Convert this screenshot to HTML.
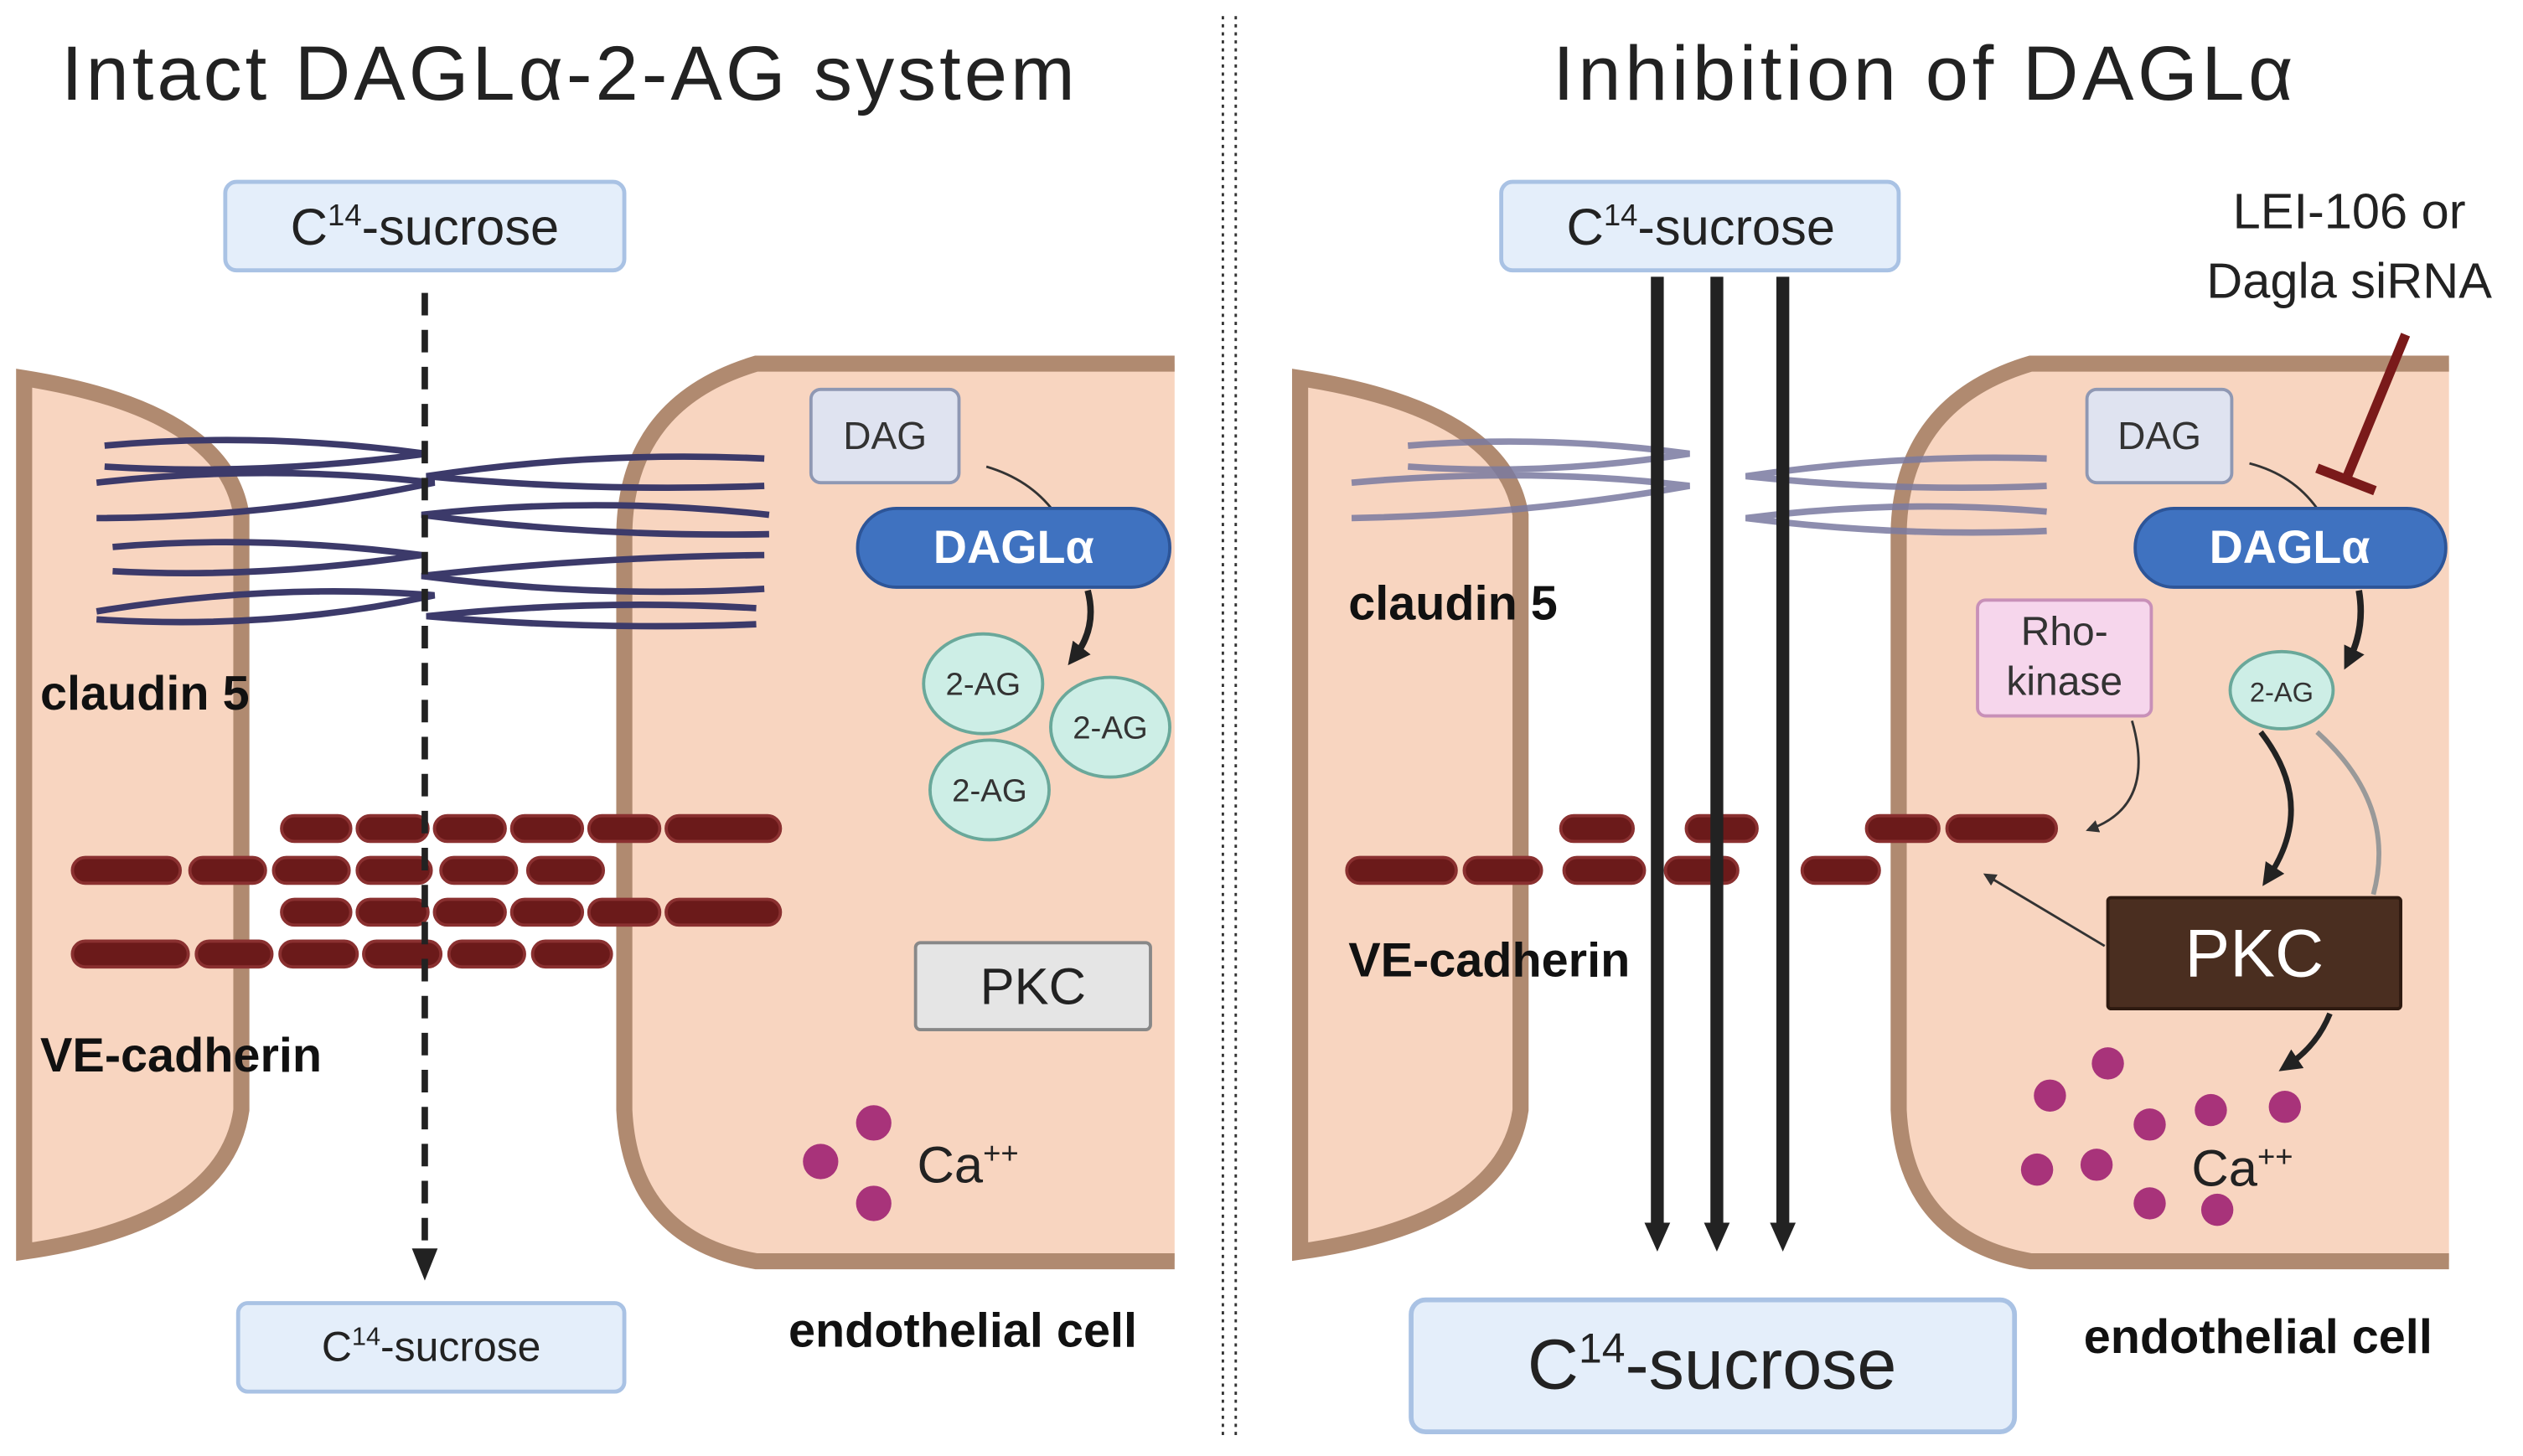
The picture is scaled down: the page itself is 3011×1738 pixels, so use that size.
<!DOCTYPE html>
<html><head><meta charset="utf-8"><style>
html,body{margin:0;padding:0;background:#fff;}
svg{display:block;}
text{font-family:"Liberation Sans",sans-serif;}
</style></head><body>
<svg width="3011" height="1738" viewBox="0 0 1568 905" xmlns="http://www.w3.org/2000/svg">
<defs>
<marker id="ah2" markerWidth="8" markerHeight="8" refX="4" refY="4" orient="auto" markerUnits="userSpaceOnUse"><path d="M0,0 L8,4 L0,8 Z" fill="#333"/></marker>
<marker id="ah3" markerWidth="14" markerHeight="14" refX="7" refY="7" orient="auto" markerUnits="userSpaceOnUse"><path d="M0,0 L14,7 L0,14 Z" fill="#222"/></marker>
</defs>
<text x="353" y="62" font-size="48" text-anchor="middle" fill="#222" textLength="630">Intact DAGLα-2-AG system</text>
<text x="1195" y="62" font-size="48" text-anchor="middle" fill="#222" textLength="460">Inhibition of DAGLα</text>
<line x1="760" y1="10" x2="760" y2="895" stroke="#333" stroke-width="1.5" stroke-dasharray="2,3"/>
<line x1="768" y1="10" x2="768" y2="895" stroke="#333" stroke-width="1.5" stroke-dasharray="2,3"/>

<!-- LEFT PANEL cells -->
<path d="M15,235 Q140,255 150,320 L150,690 Q140,760 15,778 Z" fill="#f8d5c0" stroke="#b08a70" stroke-width="10"/>
<path d="M730,226 L470,226 Q390,250 388,330 L388,690 Q392,770 470,784 L730,784 Z" fill="#f8d5c0"/>
<path d="M730,226 L470,226 Q390,250 388,330 L388,690 Q392,770 470,784 L730,784" fill="none" stroke="#b08a70" stroke-width="10"/>
<g fill="none" stroke="#3c3a6a" stroke-width="4">
<path d="M65,277 Q160,268 265,282 Q160,296 65,290"/>
<path d="M60,300 Q165,288 270,300 Q165,322 60,322"/>
<path d="M70,340 Q160,332 262,345 Q160,360 70,355"/>
<path d="M60,380 Q170,362 270,370 Q170,392 60,385"/>
<path d="M475,285 Q370,280 265,296 Q370,306 475,302"/>
<path d="M478,320 Q370,308 262,320 Q370,334 478,332"/>
<path d="M475,345 Q370,346 262,358 Q370,372 475,366"/>
<path d="M470,378 Q370,372 265,383 Q370,392 470,388"/>
</g>
<g fill="#6b1a1a" stroke="#8a3030" stroke-width="2">
<rect x="175" y="507" width="43" height="16" rx="8"/><rect x="222" y="507" width="44" height="16" rx="8"/><rect x="270" y="507" width="44" height="16" rx="8"/><rect x="318" y="507" width="44" height="16" rx="8"/><rect x="366" y="507" width="44" height="16" rx="8"/><rect x="414" y="507" width="71" height="16" rx="8"/>
<rect x="45" y="533" width="67" height="16" rx="8"/><rect x="118" y="533" width="47" height="16" rx="8"/><rect x="170" y="533" width="47" height="16" rx="8"/><rect x="222" y="533" width="46" height="16" rx="8"/><rect x="274" y="533" width="47" height="16" rx="8"/><rect x="328" y="533" width="47" height="16" rx="8"/>
<rect x="175" y="559" width="43" height="16" rx="8"/><rect x="222" y="559" width="44" height="16" rx="8"/><rect x="270" y="559" width="44" height="16" rx="8"/><rect x="318" y="559" width="44" height="16" rx="8"/><rect x="366" y="559" width="44" height="16" rx="8"/><rect x="414" y="559" width="71" height="16" rx="8"/>
<rect x="45" y="585" width="72" height="16" rx="8"/><rect x="122" y="585" width="47" height="16" rx="8"/><rect x="174" y="585" width="48" height="16" rx="8"/><rect x="226" y="585" width="48" height="16" rx="8"/><rect x="279" y="585" width="47" height="16" rx="8"/><rect x="331" y="585" width="49" height="16" rx="8"/>
</g>
<line x1="264" y1="182" x2="264" y2="780" stroke="#222" stroke-width="4" stroke-dasharray="14,9"/>
<path d="M256,776 L264,796 L272,776 Z" fill="#222"/>
<rect x="140" y="113" width="248" height="55" rx="7" fill="#e4eefa" stroke="#a9c2e4" stroke-width="2.5"/>
<text x="264" y="152" font-size="32" text-anchor="middle" fill="#222">C<tspan font-size="19" dy="-12">14</tspan><tspan dy="12">-sucrose</tspan></text>
<rect x="148" y="810" width="240" height="55" rx="6" fill="#e4eefa" stroke="#a9c2e4" stroke-width="2.5"/>
<text x="268" y="846" font-size="26" text-anchor="middle" fill="#222">C<tspan font-size="16" dy="-10">14</tspan><tspan dy="10">-sucrose</tspan></text>
<rect x="504" y="242" width="92" height="58" rx="6" fill="#dfe3f0" stroke="#8f98b3" stroke-width="2"/>
<text x="550" y="279" font-size="24" text-anchor="middle" fill="#333">DAG</text>
<path d="M613,290 Q640,298 655,318" fill="none" stroke="#333" stroke-width="1.5"/>
<rect x="533" y="316" width="194" height="49" rx="24" fill="#3f72c0" stroke="#2d5598" stroke-width="2"/>
<text x="630" y="350" font-size="29" font-weight="bold" text-anchor="middle" fill="#fff">DAGLα</text>
<path d="M676,367 Q682,390 668,408" fill="none" stroke="#222" stroke-width="4" marker-end="url(#ah3)"/>
<g fill="#cdeee6" stroke="#6aa89a" stroke-width="2">
<ellipse cx="611" cy="425" rx="37" ry="31"/><ellipse cx="690" cy="452" rx="37" ry="31"/><ellipse cx="615" cy="491" rx="37" ry="31"/></g>
<g font-size="20" text-anchor="middle" fill="#333"><text x="611" y="432">2-AG</text><text x="690" y="459">2-AG</text><text x="615" y="498">2-AG</text></g>
<rect x="569" y="586" width="146" height="54" rx="3" fill="#e5e5e5" stroke="#888" stroke-width="2"/>
<text x="642" y="624" font-size="32" text-anchor="middle" fill="#222">PKC</text>
<g fill="#a8337a"><circle cx="543" cy="698" r="11"/><circle cx="510" cy="722" r="11"/><circle cx="543" cy="748" r="11"/></g>
<text x="570" y="735" font-size="32" fill="#222">Ca<tspan font-size="19" dy="-12">++</tspan></text>

<!-- RIGHT PANEL -->
<path d="M808,235 Q935,255 945,320 L945,690 Q935,760 808,778 Z" fill="#f8d5c0" stroke="#b08a70" stroke-width="10"/>
<path d="M1522,226 L1262,226 Q1182,250 1180,330 L1180,690 Q1184,770 1262,784 L1522,784 Z" fill="#f8d5c0"/>
<path d="M1522,226 L1262,226 Q1182,250 1180,330 L1180,690 Q1184,770 1262,784 L1522,784" fill="none" stroke="#b08a70" stroke-width="10"/>
<g fill="none" stroke="#7a7aa0" stroke-width="4" opacity="0.85">
<path d="M875,277 Q960,270 1050,282 Q960,296 875,290"/>
<path d="M840,300 Q950,290 1050,302 Q950,320 840,322"/>
<path d="M1272,285 Q1180,282 1085,296 Q1180,306 1272,302"/>
<path d="M1272,318 Q1180,310 1085,322 Q1180,334 1272,330"/>
</g>
<g fill="#6b1a1a" stroke="#8a3030" stroke-width="2">
<rect x="970" y="507" width="45" height="16" rx="8"/><rect x="1048" y="507" width="44" height="16" rx="8"/><rect x="1160" y="507" width="45" height="16" rx="8"/><rect x="1210" y="507" width="68" height="16" rx="8"/>
<rect x="837" y="533" width="68" height="16" rx="8"/><rect x="910" y="533" width="48" height="16" rx="8"/><rect x="972" y="533" width="50" height="16" rx="8"/><rect x="1035" y="533" width="45" height="16" rx="8"/><rect x="1120" y="533" width="48" height="16" rx="8"/>
</g>
<g font-size="30" font-weight="bold" fill="#111">
<text x="25" y="441">claudin 5</text><text x="25" y="666">VE-cadherin</text><text x="490" y="837">endothelial cell</text>
<text x="838" y="385">claudin 5</text><text x="838" y="607">VE-cadherin</text><text x="1295" y="841">endothelial cell</text></g>
<g stroke="#222" stroke-width="8">
<line x1="1030" y1="172" x2="1030" y2="762"/><line x1="1067" y1="172" x2="1067" y2="762"/><line x1="1108" y1="172" x2="1108" y2="762"/></g>
<g fill="#222"><path d="M1022,760 L1030,778 L1038,760Z"/><path d="M1059,760 L1067,778 L1075,760Z"/><path d="M1100,760 L1108,778 L1116,760Z"/></g>
<rect x="933" y="113" width="247" height="55" rx="7" fill="#e4eefa" stroke="#a9c2e4" stroke-width="2.5"/>
<text x="1057" y="152" font-size="32" text-anchor="middle" fill="#222">C<tspan font-size="19" dy="-12">14</tspan><tspan dy="12">-sucrose</tspan></text>
<rect x="877" y="808" width="375" height="82" rx="9" fill="#e4eefa" stroke="#a9c2e4" stroke-width="3"/>
<text x="1064" y="863" font-size="44" text-anchor="middle" fill="#222">C<tspan font-size="26" dy="-16">14</tspan><tspan dy="16">-sucrose</tspan></text>
<text x="1460" y="142" font-size="31" text-anchor="middle" fill="#222">LEI-106 or</text>
<text x="1460" y="185" font-size="31" text-anchor="middle" fill="#222">Dagla siRNA</text>
<line x1="1495" y1="208" x2="1458" y2="298" stroke="#7a1a1a" stroke-width="6"/>
<line x1="1440" y1="291" x2="1476" y2="305" stroke="#7a1a1a" stroke-width="6"/>
<rect x="1297" y="242" width="90" height="58" rx="6" fill="#dfe3f0" stroke="#8f98b3" stroke-width="2"/>
<text x="1342" y="279" font-size="24" text-anchor="middle" fill="#333">DAG</text>
<path d="M1398,288 Q1425,295 1440,316" fill="none" stroke="#333" stroke-width="1.5"/>
<rect x="1327" y="316" width="193" height="49" rx="24" fill="#3f72c0" stroke="#2d5598" stroke-width="2"/>
<text x="1423" y="350" font-size="29" font-weight="bold" text-anchor="middle" fill="#fff">DAGLα</text>
<path d="M1466,367 Q1470,390 1460,410" fill="none" stroke="#222" stroke-width="4" marker-end="url(#ah3)"/>
<rect x="1229" y="373" width="108" height="72" rx="5" fill="#f6d6ec" stroke="#c890b8" stroke-width="2"/>
<text x="1283" y="401" font-size="25" text-anchor="middle" fill="#333">Rho-</text>
<text x="1283" y="432" font-size="25" text-anchor="middle" fill="#333">kinase</text>
<ellipse cx="1418" cy="429" rx="32" ry="24" fill="#cdeee6" stroke="#6aa89a" stroke-width="2"/>
<text x="1418" y="436" font-size="17" text-anchor="middle" fill="#333">2-AG</text>
<path d="M1325,448 Q1340,500 1300,515" fill="none" stroke="#333" stroke-width="1.5" marker-end="url(#ah2)"/>
<path d="M1405,455 Q1440,500 1410,545" fill="none" stroke="#222" stroke-width="3.5" marker-end="url(#ah3)"/>
<path d="M1440,455 Q1490,500 1475,556" fill="none" stroke="#999" stroke-width="3"/>
<line x1="1308" y1="588" x2="1236" y2="545" stroke="#333" stroke-width="1.5" marker-end="url(#ah2)"/>
<rect x="1310" y="558" width="182" height="69" rx="2" fill="#4a2e20" stroke="#2e1a10" stroke-width="2"/>
<text x="1401" y="607" font-size="42" text-anchor="middle" fill="#fff">PKC</text>
<path d="M1448,630 Q1440,650 1422,662" fill="none" stroke="#222" stroke-width="3.5" marker-end="url(#ah3)"/>
<g fill="#a8337a"><circle cx="1310" cy="661" r="10"/><circle cx="1274" cy="681" r="10"/><circle cx="1336" cy="699" r="10"/><circle cx="1374" cy="690" r="10"/><circle cx="1420" cy="688" r="10"/><circle cx="1266" cy="727" r="10"/><circle cx="1303" cy="724" r="10"/><circle cx="1336" cy="748" r="10"/><circle cx="1378" cy="752" r="10"/></g>
<text x="1362" y="737" font-size="32" fill="#222">Ca<tspan font-size="19" dy="-12">++</tspan></text>
</svg>
</body></html>
